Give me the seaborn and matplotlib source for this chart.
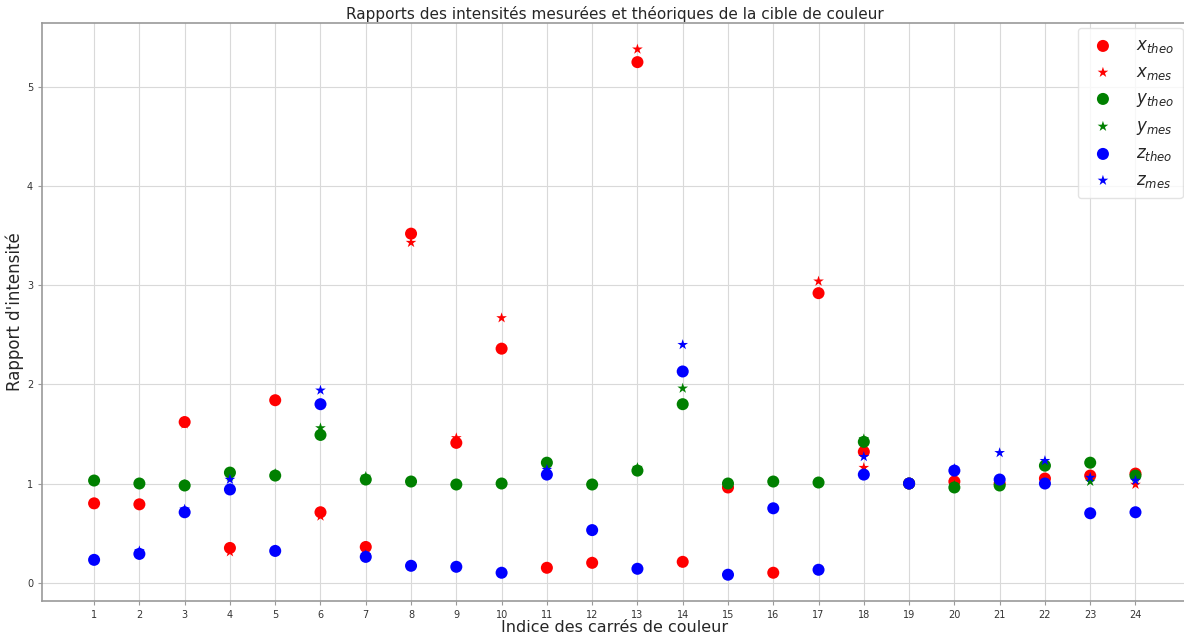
import matplotlib
matplotlib.use("Agg")
import matplotlib.pyplot as plt
import seaborn as sns
import pandas as pd

indices = list(range(1, 25))

x_theo = [0.80, 0.79, 1.62, 0.35, 1.84, 0.71, 0.36, 3.52, 1.41, 2.36, 0.15, 0.20,
          5.25, 0.21, 0.96, 0.10, 2.92, 1.32, 1.00, 1.02, 1.00, 1.05, 1.08, 1.10]
x_mes = [0.79, 0.79, 1.60, 0.31, 1.84, 0.67, 0.35, 3.43, 1.46, 2.67, 0.15, 0.21,
         5.38, 0.20, 0.95, 0.10, 3.04, 1.16, 1.00, 1.03, 1.00, 1.05, 1.07, 0.99]
y_theo = [1.03, 1.00, 0.98, 1.11, 1.08, 1.49, 1.04, 1.02, 0.99, 1.00, 1.21, 0.99,
          1.13, 1.80, 1.00, 1.02, 1.01, 1.42, 1.00, 0.96, 0.98, 1.18, 1.21, 1.08]
y_mes = [1.03, 1.00, 0.99, 1.07, 1.10, 1.56, 1.07, 1.02, 0.99, 1.00, 1.21, 0.99,
         1.16, 1.96, 1.00, 1.02, 1.01, 1.45, 1.00, 0.98, 0.98, 1.18, 1.02, 1.06]
z_theo = [0.23, 0.29, 0.71, 0.94, 0.32, 1.80, 0.26, 0.17, 0.16, 0.10, 1.09, 0.53,
          0.14, 2.13, 0.08, 0.75, 0.13, 1.09, 1.00, 1.13, 1.04, 1.00, 0.70, 0.71]
z_mes = [0.23, 0.32, 0.74, 1.04, 0.33, 1.94, 0.28, 0.17, 0.16, 0.10, 1.14, 0.53,
         0.14, 2.40, 0.08, 0.75, 0.13, 1.27, 1.00, 1.15, 1.31, 1.23, 1.06, 1.03]

series = [
    (x_theo, "red", "o", r"$x_{theo}$"),
    (x_mes, "red", "*", r"$x_{mes}$"),
    (y_theo, "green", "o", r"$y_{theo}$"),
    (y_mes, "green", "*", r"$y_{mes}$"),
    (z_theo, "blue", "o", r"$z_{theo}$"),
    (z_mes, "blue", "*", r"$z_{mes}$"),
]

sns.set_style("whitegrid", {
    "grid.color": "#d9d9d9",
    "axes.edgecolor": "#999999",
    "xtick.bottom": True,
    "ytick.left": True,
})
plt.rcParams["font.family"] = ["DejaVu Sans"]

fig, ax = plt.subplots(figsize=(11.84, 6.38), dpi=100)
fig.subplots_adjust(left=0.0355, right=1.003, top=0.964, bottom=0.058)

for vals, col, mk, lab in series:
    df = pd.DataFrame({"idx": indices, "val": vals})
    sns.scatterplot(data=df, x="idx", y="val", color=col, marker=mk,
                    s=75 if mk == "o" else 65, edgecolor="none", linewidth=0,
                    label=lab, ax=ax)

ax.set_xticks(indices)
ax.set_xticklabels([str(i) for i in indices])
ax.tick_params(axis="both", labelsize=7, length=3, color="#999999", labelcolor="#333333")
ax.set_title("Rapports des intensités mesurées et théoriques de la cible de couleur",
             fontsize=11, pad=3)
ax.set_xlabel("Indice des carrés de couleur", fontsize=11.5, labelpad=0)
ax.set_ylabel("Rapport d'intensité", fontsize=12, labelpad=2)
for sp in ax.spines.values():
    sp.set_linewidth(1.2)
leg = ax.legend(loc="upper right", fontsize=12, frameon=True, borderpad=0.5,
                labelspacing=0.45, handletextpad=1.0, borderaxespad=0.3)
leg.get_frame().set_edgecolor("#dddddd")

fig.savefig("out.png", dpi=100)
